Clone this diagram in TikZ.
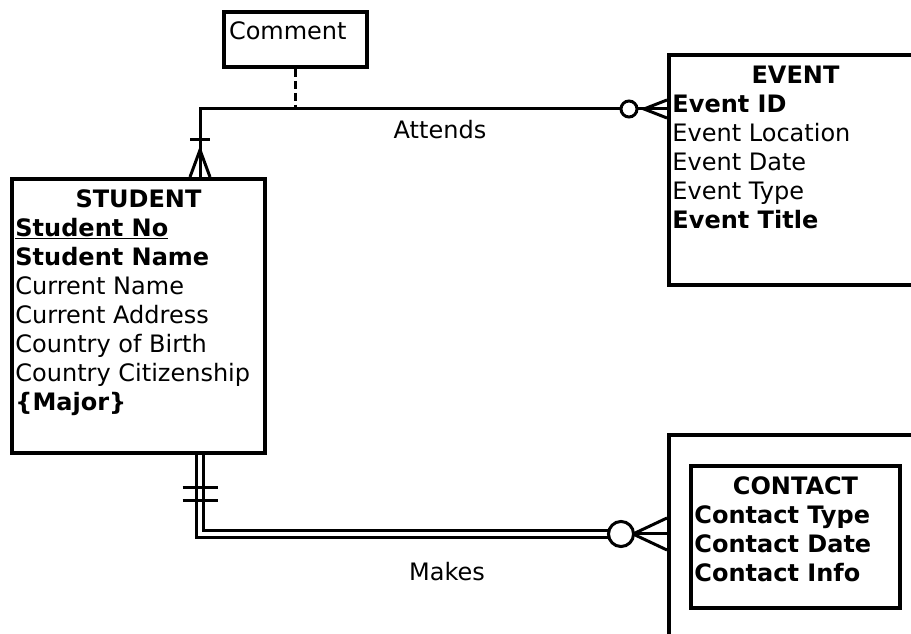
\documentclass[tikz,border=0pt]{standalone}
\usepackage{fontspec}
\setmainfont{DejaVu Sans}
\usetikzlibrary{calc,positioning}

\newcommand{\erfont}{\fontsize{18}{21.75}\selectfont}
\newcommand{\ertitle}[1]{\makebox[\linewidth]{\strut\textbf{#1}}\\}
\newcommand{\erlines}[3]{\begin{minipage}[t][#2][t]{#1}\erfont#3\end{minipage}}

\tikzset{
  erbox/.style={draw, line width=3pt, anchor=north west,
    inner xsep=2.6pt, inner ysep=6pt, font=\erfont},
  erline/.style={line width=2.25pt},
  twoline/.style={line width=2pt, double, double distance=2.9pt},
}

\begin{document}
\begin{tikzpicture}[x=0.75pt,y=-0.75pt]
    \useasboundingbox (0,0) rectangle (911,634);
    \clip (0,0) rectangle (911,634);
    % entities
    \node[erbox] (student) at (10,177) {\erlines{184.55pt}{193.5pt}{\ertitle{STUDENT}%
        \underline{\textbf{Student No}}\\
        \textbf{Student Name}\\
        Current Name\\
        Current Address\\
        Country of Birth\\
        Country Citizenship\\
        \textbf{\{Major\}}}};
    \node[erbox] (event) at (667,53) {\erlines{184.55pt}{160.5pt}{\ertitle{EVENT}%
        \textbf{Event ID}\\
        Event Location\\
        Event Date\\
        Event Type\\
        \textbf{Event Title}}};
    \node[erbox, minimum width=189.75pt, minimum height=187.5pt] (contact) at (667,433) {};
    \node[erbox] (contactin) at (689,464) {\erlines{151.55pt}{94.5pt}{\ertitle{CONTACT}%
        \textbf{Contact Type}\\
        \textbf{Contact Date}\\
        \textbf{Contact Info}}};
    \node[erbox, inner xsep=3.75pt, inner ysep=5.25pt] (comment) at (222,10) {\erlines{99.75pt}{30.75pt}{\strut Comment}};

    % Attends
    \coordinate (attS) at ($(student.north west)+(190,0)$);
    \coordinate (attE) at ($(event.north west)+(0,56)$);
    \draw[erline] (attS) |- (attE);
    \draw[erline] (attS) ++(-10,-37) -- ++(20,0);
    \draw[erline] (attS) ++(-10,0) -- ++(10,-27) -- ++(10,27);
    \draw[erline] (attE) ++(0,-9) -- ++(-23,9) -- ++(23,9);
    \draw[erline, fill=white] ($(attE)+(-38,0)$) circle[radius=6pt];
    \draw[erline, dash pattern=on 6pt off 3pt] (comment.south) -- (comment.south |- attE);
    \node[font=\erfont] (attends) at (440,130) {Attends};

    % Makes
    \coordinate (makS) at ($(student.south west)+(190,0)$);
    \coordinate (makE) at ($(contact.north west)+(0,101)$);
    \draw[twoline] (makS) |- ($(makE)+(-46,0)$);
    \draw[erline] (makS) ++(-17.5,33) -- ++(35,0);
    \draw[erline] (makS) ++(-17.5,46) -- ++(35,0);
    \draw[erline] (makE) ++(0,-16) -- ++(-34,16) -- ++(34,16);
    \draw[erline] (makE) -- ++(-34,0);
    \draw[erline, fill=white] ($(makE)+(-46,0)$) circle[radius=9.4pt];
    \node[font=\erfont] (makes) at (447,572) {Makes};
\end{tikzpicture}
\end{document}
